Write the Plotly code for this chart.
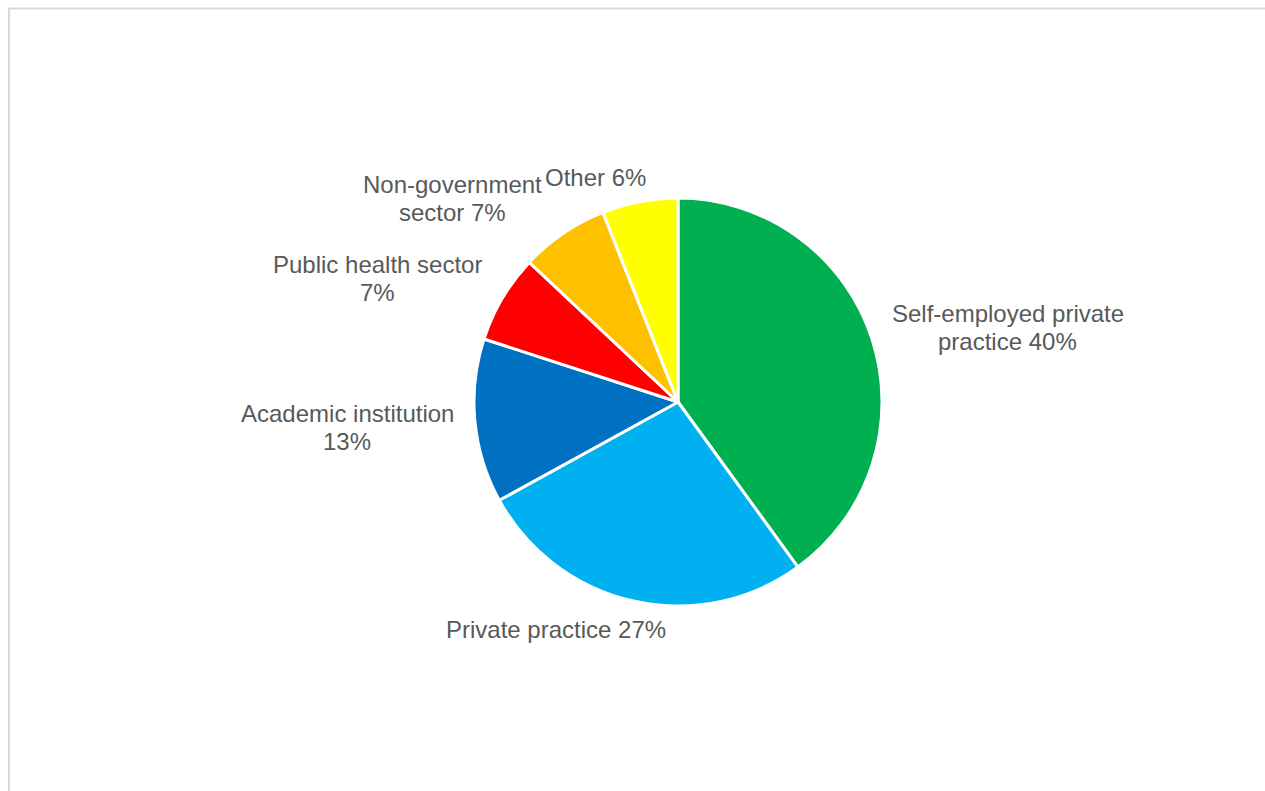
import plotly.graph_objects as go

# Share of respondents by work setting (percent)
categories = [
    "Self-employed private practice",
    "Private practice",
    "Academic institution",
    "Public health sector",
    "Non-government sector",
    "Other",
]
values = [40, 27, 13, 7, 7, 6]
colors = ["#00B050", "#00B0F0", "#0070C0", "#FF0000", "#FFC000", "#FFFF00"]

# Label lines; "{v}" is filled with the slice value
label_lines = [
    ["Self-employed private", "practice {v}%"],
    ["Private practice {v}%"],
    ["Academic institution", "{v}%"],
    ["Public health sector", "{v}%"],
    ["Non-government", "sector {v}%"],
    ["Other {v}%"],
]
# Label block centres in pixels (x, y from top)
label_pos = [(1008, 327), (556, 629), (347, 427), (377, 278), (452, 198), (595, 178)]

W, H = 1265, 791
cx, cy, r = 678, 402, 204
LINE_H = 28

fig = go.Figure(
    go.Pie(
        labels=categories,
        values=values,
        sort=False,
        direction="clockwise",
        rotation=0,
        textinfo="none",
        hoverinfo="label+percent",
        marker=dict(colors=colors, line=dict(color="#FFFFFF", width=3)),
        domain=dict(
            x=[(cx - r) / W, (cx + r) / W],
            y=[(H - cy - r) / H, (H - cy + r) / H],
        ),
        showlegend=False,
    )
)

annotations = []
for lines, v, (px, py) in zip(label_lines, values, label_pos):
    n = len(lines)
    for i, line in enumerate(lines):
        ly = py + (i - (n - 1) / 2) * LINE_H
        annotations.append(
            dict(
                text=line.format(v=v),
                x=px / W,
                y=1 - ly / H,
                xref="paper",
                yref="paper",
                xanchor="center",
                yanchor="middle",
                showarrow=False,
                font=dict(family="Liberation Sans, Arial, sans-serif", size=24, color="#595959"),
            )
        )

fig.update_layout(
    width=W,
    height=H,
    margin=dict(l=0, r=0, t=0, b=0),
    paper_bgcolor="#FFFFFF",
    plot_bgcolor="#FFFFFF",
    annotations=annotations,
    shapes=[
        dict(
            type="rect",
            xref="paper",
            yref="paper",
            x0=9 / W,
            x1=1.05,
            y0=-0.05,
            y1=1 - 8.5 / H,
            line=dict(color="#D9D9D9", width=2),
            fillcolor="rgba(0,0,0,0)",
            layer="below",
        )
    ],
)

fig.write_html("out.html")
